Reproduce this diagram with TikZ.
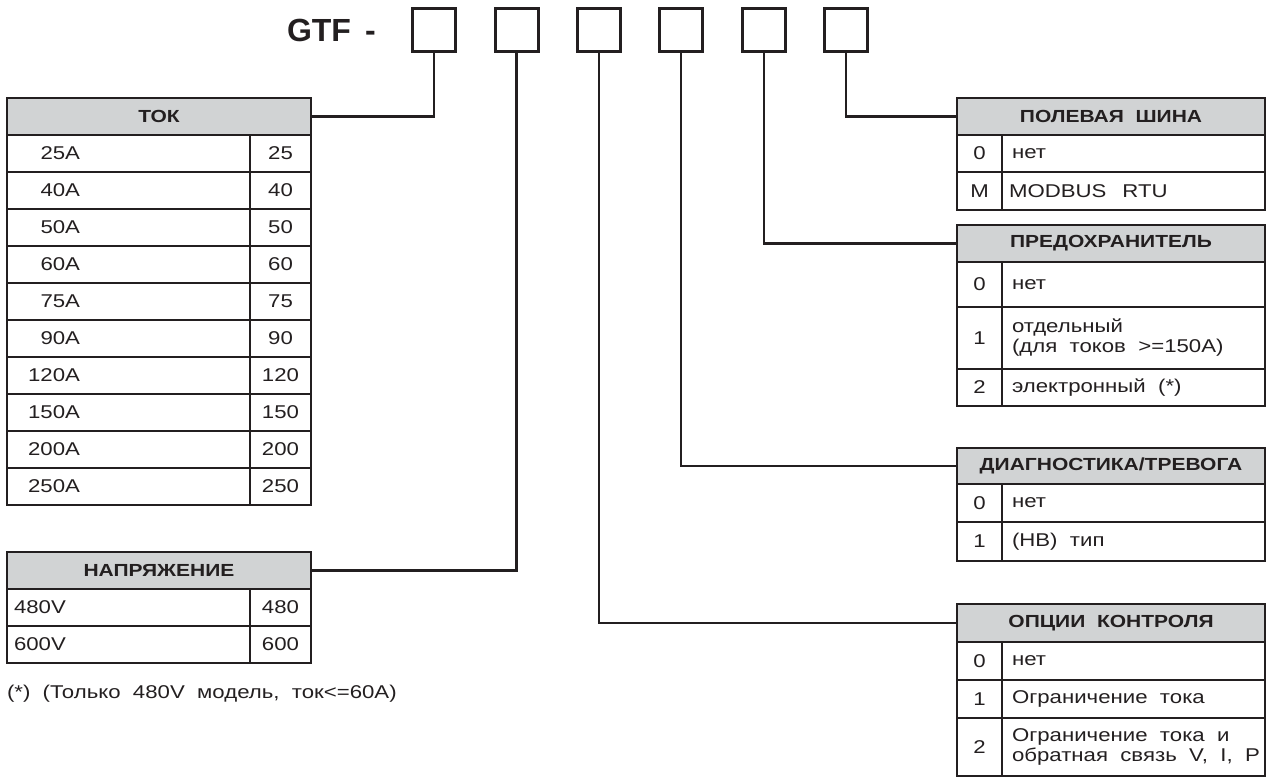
\documentclass[tikz,border=0pt]{standalone}
\usepackage{fontspec}
\setmainfont{Liberation Sans}[FakeStretch=1.2, WordSpace=2.0]
\newfontfamily\gtffont{Liberation Sans}
\definecolor{ink}{HTML}{231F20}
\definecolor{hdrgray}{HTML}{D1D3D4}
\tikzset{
  txt/.style={inner sep=0pt, outer sep=0pt, text=ink, font=\fontsize{18.5}{20}\selectfont},
  hdr/.style={draw=ink, fill=hdrgray, line width=2pt, inner sep=0pt, outer sep=0pt, text=ink, font=\fontsize{17.5}{20}\selectfont\bfseries},
  codebox/.style={draw=ink, line width=3pt, minimum width=43pt, minimum height=43pt, inner sep=0pt, outer sep=0pt},
  cellline/.style={draw=ink, line width=1.5pt},
  outerline/.style={draw=ink, line width=2.2pt},
  conn/.style={draw=ink, line width=2.5pt},
}
\begin{document}
\begin{tikzpicture}[x=1pt,y=-1pt]
\useasboundingbox (0,0) rectangle (1268,778);

% title and code boxes
\node[txt, anchor=base west, font=\fontsize{32}{36}\gtffont\bfseries] (gtf) at (287,42) {GTF \,-};
\node[codebox] (b1) at (434,30.5) {};
\node[codebox] (b2) at (516.5,30.5) {};
\node[codebox] (b3) at (599,30.5) {};
\node[codebox] (b4) at (681,30.5) {};
\node[codebox] (b5) at (764,30.5) {};
\node[codebox] (b6) at (846,30.5) {};

% ---------- TOK ----------
\foreach \a/\b [count=\i from 0] in {25A/25,40A/40,50A/50,60A/60,75A/75,90A/90,120A/120,150A/150,200A/200,250A/250}{
  \pgfmathsetmacro\t{135+37*\i}
  \draw[cellline] (7,\t) rectangle (250,\t+37);
  \draw[cellline] (250,\t) rectangle (311,\t+37);
  \node[txt, anchor=east] (tokl\i) at (80,\t+18.5) {\a};
  \node[txt] (tokv\i) at (280.5,\t+18.5) {\b};
}
\draw[outerline] (7,135) rectangle (311,505);
\node[hdr, minimum width=304pt, minimum height=37pt] (tokh) at (159,116.5) {ТОК};

% ---------- НАПРЯЖЕНИЕ ----------
\foreach \a/\b [count=\i from 0] in {480V/480,600V/600}{
  \pgfmathsetmacro\t{589+37*\i}
  \draw[cellline] (7,\t) rectangle (250,\t+37);
  \draw[cellline] (250,\t) rectangle (311,\t+37);
  \node[txt, anchor=west] (napl\i) at (14,\t+18.5) {\a};
  \node[txt] (napv\i) at (280.5,\t+18.5) {\b};
}
\draw[outerline] (7,589) rectangle (311,663);
\node[hdr, minimum width=304pt, minimum height=37pt] (naph) at (159,570.5) {НАПРЯЖЕНИЕ};

\node[txt, anchor=base west] (fn) at (7,698) {(*) (Только 480V модель, ток<=60А)};

% ---------- ПОЛЕВАЯ ШИНА ----------
\draw[cellline] (957,135) rectangle (1002,172);
\draw[cellline] (1002,135) rectangle (1265,172);
\draw[cellline] (957,172) rectangle (1002,210);
\draw[cellline] (1002,172) rectangle (1265,210);
\draw[outerline] (957,135) rectangle (1265,210);
\node[hdr, minimum width=308pt, minimum height=37pt] (polh) at (1111,116.5) {ПОЛЕВАЯ ШИНА};
\node[txt] (polc0) at (979.5,153.5) {0};
\node[txt, anchor=west] (polt0) at (1012,153.5) {нет};
\node[txt] (polc1) at (979.5,191) {M};
\node[txt, anchor=west] (polt1) at (1009,191) {MODBUS\hspace{16pt}RTU};

% ---------- ПРЕДОХРАНИТЕЛЬ ----------
\draw[cellline] (957,262) rectangle (1002,307);
\draw[cellline] (1002,262) rectangle (1265,307);
\draw[cellline] (957,307) rectangle (1002,369);
\draw[cellline] (1002,307) rectangle (1265,369);
\draw[cellline] (957,369) rectangle (1002,406);
\draw[cellline] (1002,369) rectangle (1265,406);
\draw[outerline] (957,262) rectangle (1265,406);
\node[hdr, minimum width=308pt, minimum height=37pt] (preh) at (1111,243.5) {ПРЕДОХРАНИТЕЛЬ};
\node[txt] (prec0) at (979.5,284.5) {0};
\node[txt, anchor=west] (pret0) at (1012,284.5) {нет};
\node[txt] (prec1) at (979.5,338) {1};
\node[txt, anchor=west, align=left] (pret1) at (1012,338) {отдельный\\(для токов >=150А)};
\node[txt] (prec2) at (979.5,387.5) {2};
\node[txt, anchor=west] (pret2) at (1012,387.5) {электронный (*)};

% ---------- ДИАГНОСТИКА/ТРЕВОГА ----------
\draw[cellline] (957,484) rectangle (1002,522);
\draw[cellline] (1002,484) rectangle (1265,522);
\draw[cellline] (957,522) rectangle (1002,561);
\draw[cellline] (1002,522) rectangle (1265,561);
\draw[outerline] (957,484) rectangle (1265,561);
\node[hdr, minimum width=308pt, minimum height=36pt] (diah) at (1111,466) {ДИАГНОСТИКА/ТРЕВОГА};
\node[txt] (diac0) at (979.5,503) {0};
\node[txt, anchor=west] (diat0) at (1012,503) {нет};
\node[txt] (diac1) at (979.5,541.5) {1};
\node[txt, anchor=west] (diat1) at (1012,541.5) {(НВ) тип};

% ---------- ОПЦИИ КОНТРОЛЯ ----------
\draw[cellline] (957,642) rectangle (1002,680);
\draw[cellline] (1002,642) rectangle (1265,680);
\draw[cellline] (957,680) rectangle (1002,718);
\draw[cellline] (1002,680) rectangle (1265,718);
\draw[cellline] (957,718) rectangle (1002,776);
\draw[cellline] (1002,718) rectangle (1265,776);
\draw[outerline] (957,642) rectangle (1265,776);
\node[hdr, minimum width=308pt, minimum height=38pt] (opch) at (1111,623) {ОПЦИИ КОНТРОЛЯ};
\node[txt] (opcc0) at (979.5,661) {0};
\node[txt, anchor=west] (opct0) at (1012,661) {нет};
\node[txt] (opcc1) at (979.5,699) {1};
\node[txt, anchor=west] (opct1) at (1012,699) {Ограничение тока};
\node[txt] (opcc2) at (979.5,747) {2};
\node[txt, anchor=west, align=left] (opct2) at (1012,747) {Ограничение тока и\\обратная связь V, I, P};

% ---------- connectors ----------
\draw[conn] (b1.south) |- (tokh.east);
\draw[conn] (b2.south) |- (naph.east);
\draw[conn] (b3.south) |- (opch.west);
\draw[conn] (b4.south) |- (diah.west);
\draw[conn] (b5.south) |- (preh.west);
\draw[conn] (b6.south) |- (polh.west);
\end{tikzpicture}
\end{document}
